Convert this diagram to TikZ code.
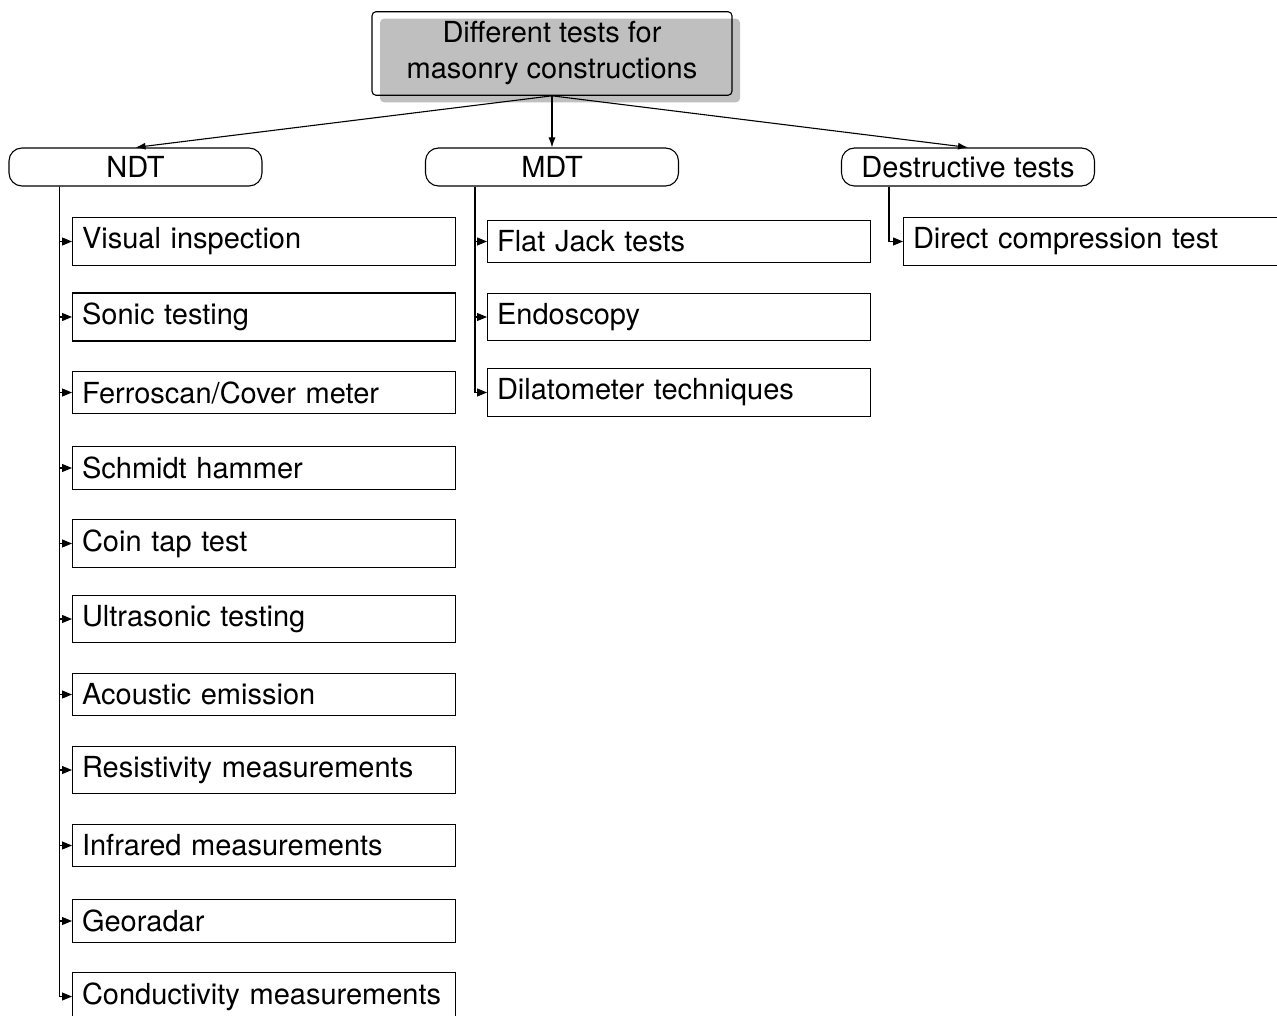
\documentclass[tikz,border=0pt]{standalone}
\usepackage{fontspec}
\setmainfont{TeX Gyre Heros}
\usetikzlibrary{arrows.meta,shadows}
\begin{document}
\begin{tikzpicture}[x=1pt,y=-1pt,
  font=\fontsize{29}{36}\selectfont,
  line width=1.1pt,
  tip/.style={-{Latex[length=10pt,width=7pt]}},
  leaftip/.style={-{Triangle[length=10pt,width=8pt]}},
  rootbox/.style={draw, rounded corners=4pt, minimum width=360pt, minimum height=83pt,
    align=center, inner sep=10pt,
    drop shadow={shadow xshift=8pt, shadow yshift=-7pt, fill=black!25, opacity=1}},
  groupbox/.style={draw, rounded corners=13pt, minimum width=253pt, minimum height=38pt, inner sep=4pt},
  leafbox/.style={draw, text width=364pt, align=left, inner xsep=9.5pt, inner ysep=10pt, anchor=west}]

\useasboundingbox (0,0) rectangle (1277,1016);

% root
\node[rootbox] (root) at (552,53.5) {Different tests for\\masonry constructions};

% three groups
\node[groupbox] (ndt) at (135.5,167) {NDT};
\node[groupbox] (mdt) at (552,167) {MDT};
\node[groupbox] (dest) at (968,167) {Destructive tests};

\draw[tip] (root.south) -- (ndt.north);
\draw[tip] (root.south) -- (mdt.north);
\draw[tip] (root.south) -- (dest.north);

% NDT methods
\foreach \name/\txt [count=\i from 0] in {
  n1/Visual inspection,
  n2/Sonic testing,
  n3/Ferroscan\slash Cover meter,
  n4/Schmidt hammer,
  n5/Coin tap test,
  n6/Ultrasonic testing,
  n7/Acoustic emission,
  n8/Resistivity measurements,
  n9/Infrared measurements,
  n10/Georadar,
  n11/Conductivity measurements} {
  \node[leafbox] (\name) at (72,241.5+75.5*\i) {\txt};
  \draw[leaftip] ([xshift=51pt]ndt.south west) |- (\name.west);
}

% MDT methods
\foreach \name/\txt [count=\i from 0] in {
  m1/Flat Jack tests,
  m2/Endoscopy,
  m3/Dilatometer techniques} {
  \node[leafbox] (\name) at (487,241.5+75.5*\i) {\txt};
  \draw[leaftip] ([xshift=50pt]mdt.south west) |- (\name.west);
}

% destructive methods
\node[leafbox] (d1) at (903,241.5) {Direct compression test};
\draw[leaftip] ([xshift=48pt]dest.south west) |- (d1.west);

\end{tikzpicture}
\end{document}
